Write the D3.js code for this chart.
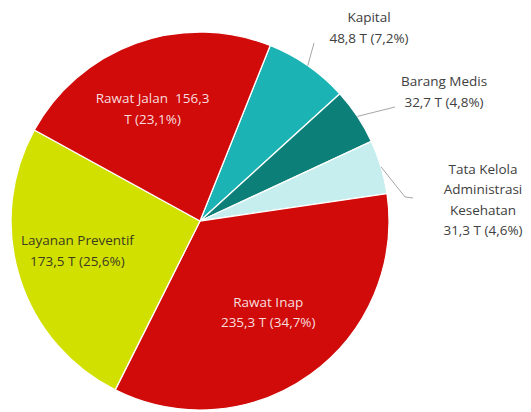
<!DOCTYPE html>
<html>
<head>
<meta charset="utf-8">
<script src="https://cdn.jsdelivr.net/npm/d3@7/dist/d3.min.js"></script>
<style>
  html, body { margin: 0; padding: 0; background: #fff; }
  svg { display: block; }
  text { font-family: "Open Sans", "Noto Sans", sans-serif; white-space: pre; }
</style>
</head>
<body>
<svg id="chart" width="531" height="412"></svg>
<script>
// Health spending by function (trillion rupiah), clockwise from the top
const categories = ["Kapital", "Barang Medis", "Tata Kelola Administrasi Kesehatan", "Rawat Inap", "Layanan Preventif", "Rawat Jalan"];
const values = [48.8, 32.7, 31.3, 235.3, 173.5, 156.3];
const percents = ["7,2%", "4,8%", "4,6%", "34,7%", "25,6%", "23,1%"];
const valueLabels = ["48,8", "32,7", "31,3", "235,3", "173,5", "156,3"];
const colors = ["#1bb3b3", "#0c7f79", "#c6eeee", "#d10a0a", "#d2e000", "#d10a0a"];

// Label text lines per slice
const labelLines = [
  ["Kapital", "48,8 T (7,2%)"],
  ["Barang Medis", "32,7 T (4,8%)"],
  ["Tata Kelola", "Administrasi", "Kesehatan", "31,3 T (4,6%)"],
  ["Rawat Inap", "235,3 T (34,7%)"],
  ["Layanan Preventif", "173,5 T (25,6%)"],
  ["Rawat Jalan  156,3", "T (23,1%)"]
];

// Layout
const cx = 200, cy = 221, radius = 189;
const startDeg = 21.8;
const lineGap = 20.5;
const insideRadius = 120;
const fontSize = 13.5;
// inside label nudges / outside label anchors
const labelLayout = [
  { outside: true, x: 369, y: 28, leader: [[314, 43]] },
  { outside: true, x: 444, y: 92, leader: [[395, 107]] },
  { outside: true, x: 483, y: 200, leader: [[405, 197], [413, 198]] },
  { outside: false, dx: -2, dy: -6, fill: "#f6dede" },
  { outside: false, dx: -8, dy: -6, fill: "#3b3b20" },
  { outside: false, dx: -7, dy: 1, fill: "#f6dede" }
];

const svg = d3.select("#chart");
const g = svg.append("g").attr("transform", `translate(${cx},${cy})`);

const start = startDeg * Math.PI / 180;
const pie = d3.pie().sort(null).value(d => d).startAngle(start).endAngle(start + 2 * Math.PI);
const arcs = pie(values);

const arc = d3.arc().innerRadius(0).outerRadius(radius);
const labelArc = d3.arc().innerRadius(insideRadius).outerRadius(insideRadius);

const color = d3.scaleOrdinal().domain(d3.range(categories.length)).range(colors);

g.selectAll("path.slice")
  .data(arcs)
  .join("path")
  .attr("class", "slice")
  .attr("d", arc)
  .attr("fill", (d, i) => color(i))
  .attr("stroke", "#ffffff")
  .attr("stroke-width", 1.3)
  .attr("stroke-linejoin", "round");

// Outside leader lines from slice edge
arcs.forEach((d, i) => {
  const L = labelLayout[i];
  if (!L.outside) return;
  const mid = (d.startAngle + d.endAngle) / 2;
  const p0 = [cx + radius * Math.sin(mid), cy - radius * Math.cos(mid)];
  const pts = [p0].concat(L.leader);
  svg.append("path")
    .attr("d", d3.line()(pts))
    .attr("fill", "none")
    .attr("stroke", "#a6a6a6")
    .attr("stroke-width", 1);
});

// Labels
arcs.forEach((d, i) => {
  const L = labelLayout[i];
  const lines = labelLines[i];
  let x, y, fill;
  if (L.outside) {
    x = L.x; y = L.y; fill = "#404040";
  } else {
    const c = labelArc.centroid(d);
    x = cx + c[0] + L.dx; y = cy + c[1] + L.dy; fill = L.fill;
  }
  const t = svg.append("text")
    .attr("text-anchor", "middle")
    .attr("font-size", fontSize)
    .attr("fill", fill);
  const y0 = y - (lines.length - 1) * lineGap / 2;
  lines.forEach((s, k) => {
    t.append("tspan")
      .attr("x", x)
      .attr("y", y0 + k * lineGap)
      .attr("dy", "0.35em")
      .text(s);
  });
});
</script>
</body>
</html>
